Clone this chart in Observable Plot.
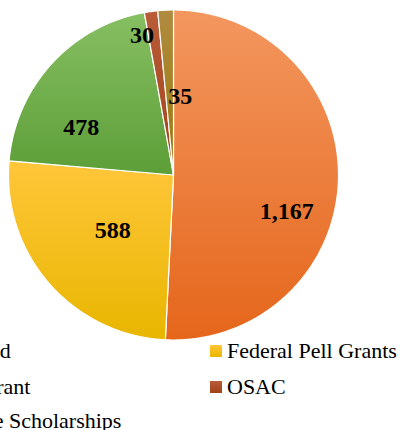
<!DOCTYPE html>
<html>
<head>
<meta charset="utf-8">
<script src="https://cdn.jsdelivr.net/npm/d3@7"></script>
<script src="https://cdn.jsdelivr.net/npm/@observablehq/plot@0.6"></script>
<style>
  html, body { margin: 0; padding: 0; background: #fff; width: 401px; height: 430px; overflow: hidden; }
  #chart { position: relative; width: 401px; height: 430px; }
  #legend { position: absolute; left: 0; top: 342px; width: 401px; height: 88px; font-family: "Liberation Serif", serif; font-size: 22px; color: #000; }
  .item { position: absolute; white-space: nowrap; display: flex; align-items: center; height: 24px; }
  .sw { width: 12px; height: 12px; margin-right: 5px; flex: none; }
</style>
</head>
<body>
<div id="chart"></div>
<script>
const categories = ["Institutional Aid", "Federal Pell Grants", "Opportunity Grant", "OSAC", "Outside Private Scholarships"];
const values = [1167, 588, 478, 30, 35];
const valueLabels = ["1,167", "588", "478", "30", "35"];
const gradTop = ["#F3975F", "#FFC63A", "#87BF63", "#B95C38", "#B08B40"];
const gradBottom = ["#E5661B", "#E8B600", "#5C9E37", "#A0431A", "#9C7808"];

const rows = categories.map((c, i) => ({category: c, value: values[i], label: valueLabels[i], i}));
const arcs = d3.pie().sort(null).value(d => d.value).startAngle(0).endAngle(2 * Math.PI)(rows);

// polygon outline of each slice, derived from the pie angles
const outline = arcs.flatMap(a => {
  const n = Math.max(2, Math.ceil((a.endAngle - a.startAngle) / (Math.PI / 360)));
  const pts = [{category: a.data.category, x: 0, y: 0}];
  for (let k = 0; k <= n; k++) {
    const t = a.startAngle + (a.endAngle - a.startAngle) * k / n;
    pts.push({category: a.data.category, x: Math.sin(t), y: Math.cos(t)});
  }
  pts.push({category: a.data.category, x: 0, y: 0});
  return pts;
});

const labelR = 0.65;
const labelPts = arcs.map(a => {
  const m = (a.startAngle + a.endAngle) / 2;
  return {category: a.data.category, label: a.data.label, x: labelR * Math.sin(m), y: labelR * Math.cos(m)};
});
const nudges = [[6, 34], [20, -15], [-13, 25], [-17, -33], [12, 28]];

const plot = Plot.plot({
  width: 401,
  height: 342,
  margin: 0,
  x: {domain: [-1, 1], range: [8, 338], axis: null},
  y: {domain: [-1, 1], range: [339.5, 9.5], axis: null},
  color: {domain: categories, range: categories.map((c, i) => `url(#g${i})`)},
  style: {background: "transparent", overflow: "visible"},
  marks: [
    Plot.line(outline, {x: "x", y: "y", z: "category", fill: "category", stroke: "white", strokeWidth: 1.2, strokeLinejoin: "round", curve: "linear"}),
    ...labelPts.map((d, i) => Plot.text([d], {
      x: "x", y: "y", text: "label", dx: nudges[i][0], dy: nudges[i][1],
      fontFamily: "Liberation Serif", fontWeight: "bold", fontSize: 24, fill: "black"
    }))
  ]
});

const ns = "http://www.w3.org/2000/svg";
const defs = document.createElementNS(ns, "defs");
categories.forEach((c, i) => {
  const g = document.createElementNS(ns, "linearGradient");
  g.setAttribute("id", `g${i}`);
  g.setAttribute("x1", "0"); g.setAttribute("y1", "0");
  g.setAttribute("x2", "0"); g.setAttribute("y2", "1");
  [[0, gradTop[i]], [1, gradBottom[i]]].forEach(([o, col]) => {
    const s = document.createElementNS(ns, "stop");
    s.setAttribute("offset", o); s.setAttribute("stop-color", col);
    g.appendChild(s);
  });
  defs.appendChild(g);
});
plot.insertBefore(defs, plot.firstChild);
plot.style.position = "absolute";
plot.style.left = "0"; plot.style.top = "0";

const chart = document.getElementById("chart");
chart.appendChild(plot);

const ctx = document.createElement("canvas").getContext("2d");
ctx.font = '22px "Liberation Serif"';

// legend: two columns, row-wise order; left column runs off the left edge as in the reference
const legend = document.createElement("div");
legend.id = "legend";
const leftText = 12 - ctx.measureText(categories[0]).width;
const colLeft = [leftText - 17, 210];
const rowTop = [-3, 33, 67];
categories.forEach((c, i) => {
  const it = document.createElement("div");
  it.className = "item";
  it.style.left = colLeft[i % 2] + "px";
  it.style.top = rowTop[Math.floor(i / 2)] + "px";
  const sw = document.createElement("span");
  sw.className = "sw";
  sw.style.background = `linear-gradient(${gradTop[i]}, ${gradBottom[i]})`;
  const tx = document.createElement("span");
  tx.textContent = c;
  it.appendChild(sw); it.appendChild(tx);
  legend.appendChild(it);
});
chart.appendChild(legend);
</script>
</body>
</html>
